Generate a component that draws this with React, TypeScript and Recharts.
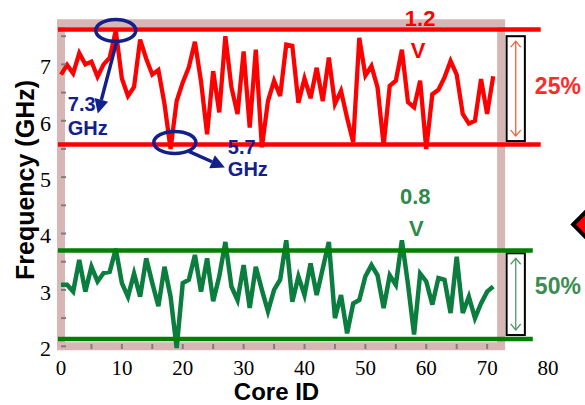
import {
  LineChart, Line, XAxis, YAxis, ReferenceLine, ReferenceArea, ReferenceDot,
} from 'recharts';

// core index on the x axis
const coreIds = [
  0, 1, 2, 3, 4, 5, 6, 7, 8, 9, 10, 11, 12, 13, 14, 15, 16, 17, 18, 19,
  20, 21, 22, 23, 24, 25, 26, 27, 28, 29, 30, 31, 32, 33, 34, 35, 36, 37, 38, 39,
  40, 41, 42, 43, 44, 45, 46, 47, 48, 49, 50, 51, 52, 53, 54, 55, 56, 57, 58, 59,
  60, 61, 62, 63, 64, 65, 66, 67, 68, 69, 70, 71,
];

// max frequency per core at 1.2 V (GHz)
const freq12V = [
  6.82, 6.99, 6.84, 7.2, 7.0, 7.05, 6.78, 7.0, 7.12, 7.6,
  6.75, 6.44, 6.6, 7.44, 7.1, 6.82, 6.9, 6.3, 5.5, 6.35,
  6.68, 6.95, 7.4, 6.7, 5.76, 6.88, 6.15, 7.5, 6.59, 6.12,
  7.23, 5.88, 7.26, 5.53, 6.35, 6.71, 6.44, 7.35, 7.33, 6.32,
  6.75, 6.4, 6.94, 6.35, 7.12, 6.3, 6.53, 6.05, 5.62, 7.47,
  6.8, 6.97, 6.59, 5.57, 6.62, 6.71, 7.26, 6.33, 6.24, 6.71,
  5.5, 6.47, 6.55, 6.77, 7.06, 6.82, 6.12, 5.95, 6.0, 6.74,
  6.12, 6.79,
];

// max frequency per core at 0.8 V (GHz)
const freq08V = [
  3.09, 3.09, 2.97, 3.53, 2.97, 3.41, 3.15, 3.3, 3.32, 3.73,
  3.12, 2.88, 3.29, 2.88, 3.56, 3.12, 2.71, 3.41, 2.88, 1.97,
  3.12, 3.18, 3.62, 2.97, 3.56, 2.8, 3.24, 3.85, 3.06, 2.82,
  3.44, 2.68, 3.41, 3.0, 2.62, 3.0, 3.18, 3.88, 2.79, 3.24,
  2.91, 3.47, 2.91, 3.38, 3.85, 2.5, 2.91, 2.23, 2.76, 2.82,
  3.24, 3.44, 3.26, 2.68, 3.26, 3.09, 3.88, 3.1, 2.21, 3.29,
  3.15, 2.74, 3.21, 3.18, 2.59, 3.59, 2.59, 2.88, 2.5, 2.76,
  2.97, 3.06,
];

const xTicks = [0, 5, 10, 15, 20, 25, 30, 35, 40, 45, 50, 55, 60, 65, 70, 75, 80];
const yTicks = [2, 2.5, 3, 3.5, 4, 4.5, 5, 5.5, 6, 6.5, 7, 7.5];

// spread bands (max / min lines)
const band12V = [5.58, 7.62];
const band08V = [2.13, 3.7];

const SANS = '"Liberation Sans", Arial, Helvetica, sans-serif';
const SERIF = '"Liberation Serif", "Times New Roman", Times, serif';
const NAVY = '#13208c';

const data = coreIds.map((id, i) => ({ id, v12: freq12V[i], v08: freq08V[i] }));

function Arrow({ x1, y1, x2, y2, color, width = 3.5, head = 14, half = 7 }: any) {
  const dx = x2 - x1;
  const dy = y2 - y1;
  const d = Math.hypot(dx, dy);
  const ux = dx / d;
  const uy = dy / d;
  const bx = x2 - ux * head;
  const by = y2 - uy * head;
  const px = -uy * half;
  const py = ux * half;
  return (
    <g>
      <line x1={x1} y1={y1} x2={bx} y2={by} stroke={color} strokeWidth={width} />
      <polygon points={`${x2},${y2} ${bx + px},${by + py} ${bx - px},${by - py}`} fill={color} />
    </g>
  );
}

function XTick(props: any) {
  const { x, y, payload } = props;
  const v = payload.value;
  const axisY = y - 15;
  return (
    <g>
      {v > 0 && v < 72 && (
        <line x1={x} x2={x} y1={axisY - 4} y2={axisY + 1} stroke="#7d7d7d" strokeWidth={2} />
      )}
      {v % 10 === 0 && (
        <text x={x} y={y - 3} dy="0.71em" textAnchor="middle" fontFamily={SERIF} fontSize={21} fill="#000">
          {v}
        </text>
      )}
    </g>
  );
}

function YTick(props: any) {
  const { x, y, payload } = props;
  const v = payload.value;
  const axisX = x + 10;
  return (
    <g>
      <line x1={axisX} x2={axisX + 5} y1={y} y2={y} stroke="#7d7d7d" strokeWidth={2} />
      {Number.isInteger(v) && (
        <text x={x} y={y + 2} dy="0.355em" textAnchor="end" fontFamily={SERIF} fontSize={22} fill="#000">
          {v}
        </text>
      )}
    </g>
  );
}

function SpreadBox({ x, y, width, height, color, text, textColor, textDy }: any) {
  const cx = x + width / 2;
  const top = y + 5;
  const bot = y + height - 5;
  return (
    <g>
      <rect x={x} y={y} width={width} height={height} fill="#fff" stroke="#000" strokeWidth={2} />
      <line x1={cx} x2={cx} y1={top} y2={bot} stroke={color} strokeWidth={1.3} />
      <polyline points={`${cx - 5},${top + 6} ${cx},${top} ${cx + 5},${top + 6}`} fill="none" stroke={color} strokeWidth={1.3} />
      <polyline points={`${cx - 5},${bot - 6} ${cx},${bot} ${cx + 5},${bot - 6}`} fill="none" stroke={color} strokeWidth={1.3} />
      <text x={x + width + 10} y={y + height / 2 + textDy} fontFamily={SANS} fontWeight="bold" fontSize={23} fill={textColor}>
        {text}
      </text>
    </g>
  );
}

export default function App() {
  return (
    <div style={{ position: 'absolute', left: 0, top: 0, background: '#fff' }}>
      <LineChart width={585} height={405} data={data} margin={{ top: 8, right: 37, bottom: 0, left: 0 }}>
        <XAxis
          dataKey="id"
          type="number"
          domain={[0, 80]}
          ticks={xTicks}
          interval={0}
          axisLine={false}
          tickLine={false}
          tickSize={6}
          tickMargin={9}
          height={57}
          tick={(p: any) => <XTick {...p} />}
          label={{
            content: (p: any) => {
              const vb = p.viewBox;
              return (
                <text x={vb.x + vb.width / 2 - 28} y={vb.y + vb.height - 5} textAnchor="middle"
                  fontFamily={SANS} fontWeight="bold" fontSize={24} fill="#000">
                  Core ID
                </text>
              );
            },
          }}
        />
        <YAxis
          type="number"
          domain={[2, 8]}
          ticks={yTicks}
          interval={0}
          width={61}
          axisLine={false}
          tickLine={false}
          tickSize={6}
          tickMargin={4}
          tick={(p: any) => <YTick {...p} />}
          label={{
            content: (p: any) => {
              const vb = p.viewBox;
              return (
                <text transform={`translate(${vb.x + 25}, ${vb.y + vb.height / 2 + 2}) rotate(-90)`}
                  textAnchor="middle" dominantBaseline="central"
                  fontFamily={SANS} fontWeight="bold" fontSize={25} fill="#000">
                  Frequency (GHz)
                </text>
              );
            },
          }}
        />

        {/* plot frame */}
        <ReferenceArea x1={0} x2={72.3} y1={2} y2={7.73} fill="none" stroke="#d8b6b6" strokeWidth={8} ifOverflow="visible" />

        {/* 5.7 GHz text sits under the min line */}
        <ReferenceDot x={18.7} y={band12V[0]} r={0} ifOverflow="visible"
          shape={(p: any) => (
            <g fontFamily={SANS} fontWeight="bold" fontSize={20} fill={NAVY}>
              <text x={p.cx + 53} y={p.cy + 10}>5.7</text>
              <text x={p.cx + 53} y={p.cy + 32}>GHz</text>
            </g>
          )}
        />

        <Line type="linear" dataKey="v12" stroke="#ff0000" strokeWidth={4.3} dot={false} isAnimationActive={false} />
        <Line type="linear" dataKey="v08" stroke="#0b7d3e" strokeWidth={4.5} dot={false} isAnimationActive={false} />

        {band12V.map(v => (
          <ReferenceLine key={`r${v}`} segment={[{ x: -0.5, y: v }, { x: 78.8, y: v }]}
            stroke="#ff0000" strokeWidth={4.5} ifOverflow="visible" />
        ))}
        {band08V.map(v => (
          <ReferenceLine key={`g${v}`} segment={[{ x: -0.5, y: v }, { x: 77.5, y: v }]}
            stroke="#008000" strokeWidth={4.5} ifOverflow="visible" />
        ))}

        <ReferenceArea x1={73.2} x2={76.2} y1={5.64} y2={7.5} ifOverflow="visible"
          shape={(p: any) => <SpreadBox {...p} color="#ff5a36" text="25%" textColor="#ff2a2a" textDy={5} />} />
        <ReferenceArea x1={73.2} x2={76.2} y1={2.2} y2={3.65} ifOverflow="visible"
          shape={(p: any) => <SpreadBox {...p} color="#4f9a66" text="50%" textColor="#3a8c50" textDy={0} />} />

        {/* max annotation */}
        <ReferenceDot x={9} y={band12V[1]} r={0} ifOverflow="visible"
          shape={(p: any) => (
            <g>
              <ellipse cx={p.cx} cy={p.cy + 1} rx={20} ry={11} fill="none" stroke={NAVY} strokeWidth={3.5} />
              <Arrow x1={p.cx + 1} y1={p.cy + 12} x2={p.cx - 18} y2={p.cy + 84} color={NAVY} />
              <g fontFamily={SANS} fontWeight="bold" fontSize={20} fill={NAVY}>
                <text x={p.cx - 48} y={p.cy + 82}>7.3</text>
                <text x={p.cx - 48} y={p.cy + 106}>GHz</text>
              </g>
            </g>
          )}
        />
        {/* min annotation */}
        <ReferenceDot x={18.7} y={band12V[0]} r={0} ifOverflow="visible"
          shape={(p: any) => (
            <g>
              <ellipse cx={p.cx} cy={p.cy - 2} rx={21} ry={11} fill="none" stroke={NAVY} strokeWidth={3.5} />
              <Arrow x1={p.cx + 14} y1={p.cy + 7} x2={p.cx + 50} y2={p.cy + 23} color={NAVY} />
            </g>
          )}
        />

        {/* voltage labels */}
        <ReferenceDot x={59} y={band12V[1]} r={0} ifOverflow="visible"
          shape={(p: any) => (
            <g fontFamily={SANS} fontWeight="bold" fontSize={22} fill="#ff0000" textAnchor="middle">
              <text x={p.cx} y={p.cy - 3}>1.2</text>
              <text x={p.cx - 2} y={p.cy + 29}>V</text>
            </g>
          )}
        />
        <ReferenceDot x={58.2} y={band08V[1]} r={0} ifOverflow="visible"
          shape={(p: any) => (
            <g fontFamily={SANS} fontWeight="bold" fontSize={22} fill="#2d8a4a" textAnchor="middle">
              <text x={p.cx} y={p.cy - 46}>0.8</text>
              <text x={p.cx + 1} y={p.cy - 14}>V</text>
            </g>
          )}
        />

        {/* piece of neighbouring marker */}
        <ReferenceDot x={86.6} y={4.16} r={0} ifOverflow="visible"
          shape={(p: any) => (
            <polygon points={`${p.cx - 15},${p.cy} ${p.cx},${p.cy - 15} ${p.cx + 15},${p.cy} ${p.cx},${p.cy + 15}`}
              fill="#ff0000" stroke="#000" strokeWidth={4} />
          )}
        />
      </LineChart>
    </div>
  );
}
